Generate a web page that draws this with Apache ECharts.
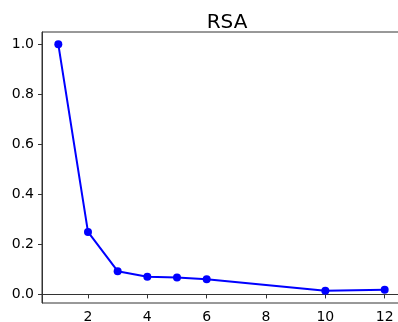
<!DOCTYPE html>
<html>
<head>
<meta charset="utf-8">
<script src="https://cdn.jsdelivr.net/npm/echarts@6/dist/echarts.min.js"></script>
<style>
  html, body { margin: 0; padding: 0; background: #fff; }
  #chart { width: 398px; height: 322px; }
</style>
</head>
<body>
<div id="chart"></div>
<script>
// RSA score by k
const xValues = [1, 2, 3, 4, 5, 6, 10, 12];
const rsaValues = [1.0, 0.25, 0.093, 0.071, 0.068, 0.061, 0.015, 0.019];
const xTicks = [2, 4, 6, 8, 10, 12];
const yTicks = [0.0, 0.2, 0.4, 0.6, 0.8, 1.0];
const chartTitle = 'RSA';

// pad each axis by 5% of the data span on both sides
function padded(vals) {
  const lo = Math.min(...vals), hi = Math.max(...vals);
  const pad = (hi - lo) * 0.05;
  return [lo - pad, hi + pad];
}
const [xMin, xMax] = padded(xValues);
const [yMin, yMax] = padded(rsaValues);

const font = 'DejaVu Sans';
const spine = '#333';

const chart = echarts.init(document.getElementById('chart'), null, { renderer: 'canvas' });
chart.setOption({
  animation: false,
  backgroundColor: '#fff',
  title: {
    text: chartTitle,
    left: 222, top: 8, textAlign: 'center',
    textStyle: { fontFamily: font, fontSize: 20, fontWeight: 'normal', color: '#000' }
  },
  grid: {
    left: 42, top: 32, width: 359, height: 271,
    outerBoundsMode: 'none', containLabel: false,
    show: true, borderColor: spine, borderWidth: 1, backgroundColor: 'transparent'
  },
  xAxis: {
    type: 'value', min: xMin, max: xMax,
    axisLine: { show: true, lineStyle: { color: spine, width: 1 } },
    axisTick: { show: true, length: 4, customValues: xTicks, lineStyle: { color: spine } },
    axisLabel: { customValues: xTicks, margin: 7, fontFamily: font, fontSize: 14, color: '#000' },
    splitLine: { show: false }
  },
  yAxis: {
    type: 'value', min: yMin, max: yMax,
    axisLine: { show: true, lineStyle: { color: spine, width: 1 } },
    axisTick: { show: true, length: 4, customValues: yTicks, lineStyle: { color: spine } },
    axisLabel: {
      customValues: yTicks, margin: 8, fontFamily: font, fontSize: 14, color: '#000',
      formatter: v => v.toFixed(1)
    },
    splitLine: { show: false }
  },
  series: [{
    type: 'line',
    data: xValues.map((x, i) => [x, rsaValues[i]]),
    symbol: 'circle', symbolSize: 8,
    lineStyle: { color: '#0000ff', width: 2 },
    itemStyle: { color: '#0000ff' }
  }]
});
</script>
</body>
</html>
